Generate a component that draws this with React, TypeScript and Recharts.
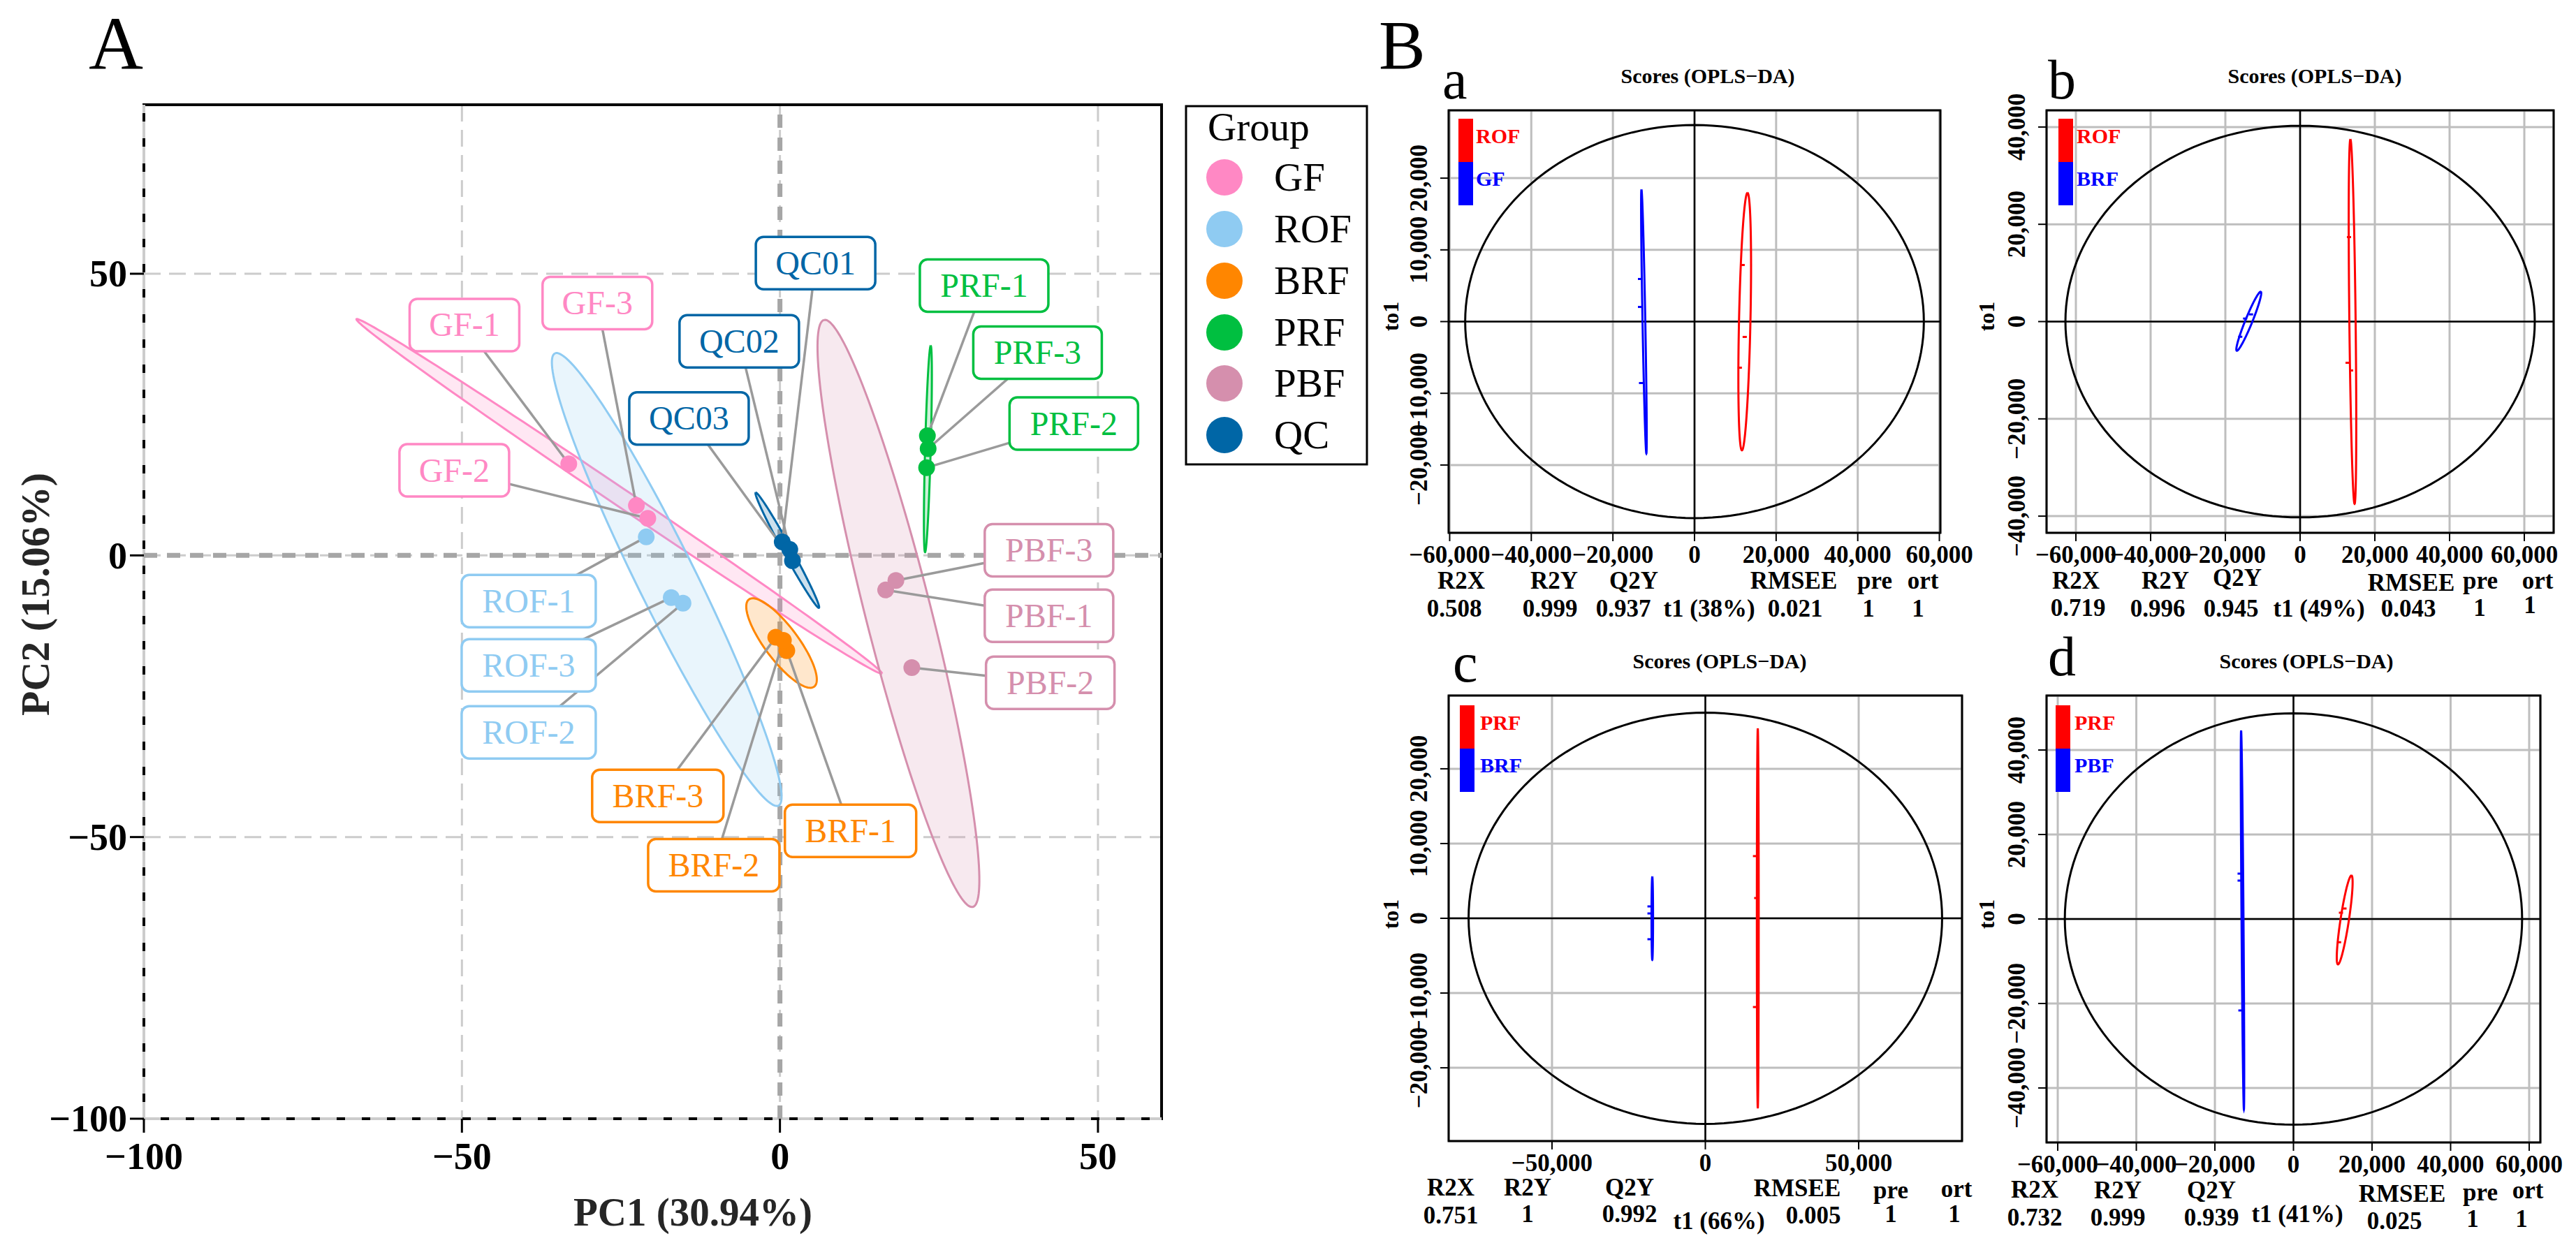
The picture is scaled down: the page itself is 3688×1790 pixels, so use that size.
import React from 'react';
import {
  ScatterChart,
  Scatter,
  XAxis,
  YAxis,
  CartesianGrid,
  ReferenceLine,
  ReferenceArea,
} from 'recharts';

const FONT = '"Liberation Serif", "Times New Roman", Times, serif';

// ---------------- Panel A: PCA scores ----------------
const groups = ['GF', 'ROF', 'BRF', 'PRF', 'PBF', 'QC'];
const groupColors = ['#FF88C4', '#8FCBF2', '#FF8600', '#00BF40', '#D58FAD', '#0066A6'];

const sampleNames = [
  'GF-1', 'GF-2', 'GF-3', 'ROF-1', 'ROF-2', 'ROF-3', 'BRF-1', 'BRF-2', 'BRF-3',
  'PRF-1', 'PRF-2', 'PRF-3', 'PBF-1', 'PBF-2', 'PBF-3', 'QC01', 'QC02', 'QC03',
];
const sampleGroup = [
  'GF', 'GF', 'GF', 'ROF', 'ROF', 'ROF', 'BRF', 'BRF', 'BRF',
  'PRF', 'PRF', 'PRF', 'PBF', 'PBF', 'PBF', 'QC', 'QC', 'QC',
];
const pc1 = [-33.2, -20.78, -22.57, -21.02, -15.24, -17.09, 1.08, 0.54, -0.66, 23.18, 23.06, 23.3, 16.62, 20.73, 18.23, 0.36, 1.55, 1.97];
const pc2 = [16.25, 6.58, 8.86, 3.28, -8.49, -7.48, -16.9, -15.09, -14.54, 21.23, 15.58, 18.95, -6.14, -19.93, -4.45, 2.41, 1.05, -0.96];
// where ggrepel put the labels
const labelPc1 = [-49.6, -51.2, -28.7, -39.5, -39.5, -39.5, 11.1, -10.4, -19.2, 32.1, 46.2, 40.5, 42.3, 42.5, 42.3, 5.6, -6.4, -14.3];
const labelPc2 = [40.9, 15.1, 44.8, -8.1, -31.4, -19.5, -48.9, -55, -42.7, 47.9, 23.4, 36.0, -10.7, -22.6, 0.9, 51.9, 38, 24.3];

// confidence ellipses per group: centre and two conjugate semi-axes (PC units)
const ellCx = [-25.27, -17.8, 0.25, 23.26, 18.63, 1.16];
const ellCy = [10.48, -4.28, -15.56, 18.9, -10.3, 0.92];
const ellAx = [41.3, -17.58, -5.13, 0.445, -11.7, -4.97];
const ellAy = [-31.45, 40.14, 7.74, 18.33, 52.1, 10.22];
const ellBx = [-0.77, 4.13, 2.11, 0.44, 5.0, 0.58];
const ellBy = [-1.29, 2.31, 1.79, -0.01, 1.44, 0.36];

const pcaXTicks = [-100, -50, 0, 50];
const pcaYTicks = [-100, -50, 0, 50];

// ---------------- Panel B: OPLS-DA scores ----------------
const oplsLetters = ['a', 'b', 'c', 'd'];
const oplsPairs = [['ROF', 'GF'], ['ROF', 'BRF'], ['PRF', 'BRF'], ['PRF', 'PBF']];
const oplsT1Pct = [38, 49, 66, 41];
const statNames = ['R2X', 'R2Y', 'Q2Y', 'RMSEE', 'pre', 'ort'];
const statValues = [
  ['0.508', '0.999', '0.937', '0.021', '1', '1'],
  ['0.719', '0.996', '0.945', '0.043', '1', '1'],
  ['0.751', '1', '0.992', '0.005', '1', '1'],
  ['0.732', '0.999', '0.939', '0.025', '1', '1'],
];

const redT1 = [[11800, 12300, 11100], [13080, 12710, 13650], [16200, 16600, 16200], [12980, 12090, 11610]];
const redTo1 = [[7890, -2140, -6430], [17370, -8470, -10050], [8320, 2710, -11870], [2480, 1490, -5500]];
const blueT1 = [[-13350, -13350, -13100], [-13140, -14710, -16020], [-18200, -18200, -18200], [-13700, -13700, -13500]];
const blueTo1 = [[5940, 2040, -8570], [1480, 620, -3120], [1590, 650, -2800], [10740, 9090, -21650]];

// [cx, cy, ax, ay, bx, by]
const redEll = [
  [12300, 0, 680, 17950, 1400, 0],
  [14020, 0, -560, 37470, 840, 0],
  [17100, 0, 0, 25400, 300, 0],
  [13040, -220, 1720, 10520, 1055, -149],
];
const blueEll = [
  [-12400, 0, -600, 18400, 340, 0],
  [-13735, 70, 3215, 6060, 865, -271],
  [-17300, 0, 0, 5560, 250, 0],
  [-12970, -250, -355, 44850, 250, 0],
];
const hotellingX = [56200, 62800, 77200, 58200];
const hotellingY = [27400, 40250, 27500, 48700];

const oplsXHalf = [60250, 67850, 83700, 62850];
const oplsYHalf = [29455, 43430, 29800, 52900];
const oplsXTicks = [
  [-60000, -40000, -20000, 0, 20000, 40000, 60000],
  [-60000, -40000, -20000, 0, 20000, 40000, 60000],
  [-50000, 0, 50000],
  [-60000, -40000, -20000, 0, 20000, 40000, 60000],
];
const oplsYTicks = [
  [-20000, -10000, 0, 10000, 20000],
  [-40000, -20000, 0, 20000, 40000],
  [-20000, -10000, 0, 10000, 20000],
  [-40000, -20000, 0, 20000, 40000],
];

// ---------------- layout ----------------
const PCA_BOX = { l: 206, t: 150, r: 1663, b: 1602 };
const OPLS_BOX = [
  { l: 2074, t: 158, r: 2778, b: 763 },
  { l: 2930, t: 158, r: 3656, b: 763 },
  { l: 2074, t: 996, r: 2809, b: 1634 },
  { l: 2930, t: 996, r: 3637, b: 1636 },
];
const labelBoxW: Record<string, number> = { GF: 157, ROF: 192, BRF: 188, PRF: 184, PBF: 184, QC: 171 };
const legendY = [254, 328, 402, 476, 549, 623];

const letterPos = [[2065, 141], [2932, 141], [2080, 976], [2932, 967]];
const titlePos = [[2445, 119], [3314, 119], [2462, 957], [3302, 957]];
const to1Pos = [[1991, 453], [2844, 453], [1991, 1309], [2844, 1309]];
const keyPos = [[2088, 170, 2113], [2947, 170, 2973], [2090, 1010, 2119], [2943, 1010, 2970]];
const statLabelX = [[2092, 2225, 2339, 2568, 2684, 2753], [2972, 3100, 3203, 3452, 3551, 3633], [2077, 2187, 2333, 2573, 2707, 2801], [2913, 3032, 3166, 3439, 3551, 3619]];
const statLabelY = [[831, 831, 831, 831, 831, 831], [831, 831, 827, 834, 831, 831], [1700, 1700, 1700, 1701, 1704, 1702], [1703, 1704, 1704, 1709, 1707, 1704]];
const statValueX = [[2082, 2219, 2324, 2570, 2675, 2746], [2975, 3089, 3194, 3448, 3550, 3622], [2077, 2187, 2333, 2596, 2707, 2798], [2913, 3032, 3166, 3428, 3540, 3610]];
const statValueY = [[871, 871, 871, 871, 871, 871], [870, 871, 871, 871, 870, 866], [1740, 1738, 1738, 1740, 1738, 1738], [1743, 1743, 1743, 1748, 1745, 1745]];
const t1Pos = [[2447, 871], [3320, 871], [2461, 1748], [3289, 1738]];

// outline of an ellipse from its centre and conjugate semi-axes
function ellipsePoints(cx: number, cy: number, ax: number, ay: number, bx: number, by: number, n = 160) {
  const pts = [];
  for (let i = 0; i <= n; i++) {
    const t = (2 * Math.PI * i) / n;
    pts.push({ x: cx + ax * Math.cos(t) + bx * Math.sin(t), y: cy + ay * Math.cos(t) + by * Math.sin(t) });
  }
  return pts;
}

const fmt = (v: number) => (v < 0 ? '\u2212' : '') + Math.abs(v).toLocaleString('en-US');
const colorOf = (g: string) => groupColors[groups.indexOf(g)];
const noShape = () => <g />;

const PcaXTick = (p: any) => (
  <text x={p.x} y={p.y} dy="0.71em" textAnchor="middle" fontFamily={FONT} fontWeight={700} fontSize={54} fill="#000">
    {fmt(p.payload.value)}
  </text>
);
const PcaYTick = (p: any) => (
  <text x={p.x} y={p.y} dy="0.34em" textAnchor="end" fontFamily={FONT} fontWeight={700} fontSize={54} fill="#000">
    {fmt(p.payload.value)}
  </text>
);
const OplsXTick = (p: any) => (
  <text x={p.x} y={p.y} dy="0.71em" textAnchor="middle" fontFamily={FONT} fontWeight={700} fontSize={35} fill="#000">
    {fmt(p.payload.value)}
  </text>
);
const OplsYTick = (p: any) => (
  <text x={p.x} y={p.y} transform={`rotate(-90, ${p.x}, ${p.y})`} textAnchor="middle" fontFamily={FONT} fontWeight={700} fontSize={35} fill="#000">
    {fmt(p.payload.value)}
  </text>
);

function PcaPlot() {
  const yW = 190;
  const xH = 110;
  const m = 10;
  const w = PCA_BOX.r - PCA_BOX.l;
  const h = PCA_BOX.b - PCA_BOX.t;
  const samples = sampleNames.map((name, i) => ({
    name,
    group: sampleGroup[i],
    x: pc1[i],
    y: pc2[i],
  }));
  const labels = sampleNames.map((name, i) => ({ name, group: sampleGroup[i], x: labelPc1[i], y: labelPc2[i] }));

  const labelShape = (p: any) => {
    const g = p.payload.group;
    const c = colorOf(g);
    const bw = labelBoxW[g];
    return (
      <g>
        <rect x={p.cx - bw / 2} y={p.cy - 37.5} width={bw} height={75} rx={11} fill="#fff" stroke={c} strokeWidth={3.5} />
        <text x={p.cx} y={p.cy + 16} textAnchor="middle" fontFamily={FONT} fontSize={48} fill={c}>
          {p.payload.name}
        </text>
      </g>
    );
  };

  return (
    <div style={{ position: 'absolute', left: PCA_BOX.l - yW - m, top: PCA_BOX.t - m }}>
      <ScatterChart width={w + yW + 2 * m} height={h + xH + 2 * m} margin={{ top: m, right: m, bottom: m, left: m }}>
        <CartesianGrid stroke="#cccccc" strokeWidth={3} strokeDasharray="24 12" />
        <XAxis
          type="number"
          dataKey="x"
          domain={[-100, 60]}
          ticks={pcaXTicks}
          allowDataOverflow
          height={xH}
          axisLine={false}
          tickLine={{ stroke: '#000', strokeWidth: 3 }}
          tickSize={20}
          tickMargin={14}
          tick={<PcaXTick />}
        />
        <YAxis
          type="number"
          dataKey="y"
          domain={[-100, 80]}
          ticks={pcaYTicks}
          allowDataOverflow
          width={yW}
          axisLine={false}
          tickLine={{ stroke: '#000', strokeWidth: 3 }}
          tickSize={20}
          tickMargin={4}
          tick={<PcaYTick />}
        />
        <ReferenceArea x1={-100} x2={60} y1={-100} y2={80} fill="none" stroke="#000" strokeWidth={4} ifOverflow="visible" />
        <ReferenceLine x={-100} stroke="#cccccc" strokeWidth={4} strokeDasharray="24 12" />
        <ReferenceLine y={-100} stroke="#cccccc" strokeWidth={4} strokeDasharray="24 12" />
        <ReferenceLine x={0} stroke="#a6a6a6" strokeWidth={7} strokeDasharray="19 14" />
        <ReferenceLine y={0} stroke="#a6a6a6" strokeWidth={7} strokeDasharray="19 14" />
        {groups.map((g, i) => (
          <Scatter
            key={`ell-${g}`}
            data={ellipsePoints(ellCx[i], ellCy[i], ellAx[i], ellAy[i], ellBx[i], ellBy[i])}
            line={{ stroke: groupColors[i], strokeWidth: 3, fill: groupColors[i], fillOpacity: 0.2 }}
            shape={noShape}
            isAnimationActive={false}
          />
        ))}
        {samples.map((s, i) => (
          <Scatter
            key={`seg-${s.name}`}
            data={[{ x: s.x, y: s.y }, { x: labelPc1[i], y: labelPc2[i] }]}
            line={{ stroke: '#9a9a9a', strokeWidth: 3.5 }}
            shape={noShape}
            isAnimationActive={false}
          />
        ))}
        {groups.map((g, i) => (
          <Scatter
            key={`pts-${g}`}
            data={samples.filter((s) => s.group === g)}
            fill={groupColors[i]}
            shape={(p: any) => <circle cx={p.cx} cy={p.cy} r={12} fill={groupColors[i]} />}
            isAnimationActive={false}
          />
        ))}
        <Scatter data={labels} shape={labelShape} isAnimationActive={false} />
      </ScatterChart>
    </div>
  );
}

function OplsPlot({ idx }: { idx: number }) {
  const box = OPLS_BOX[idx];
  const yW = 70;
  const xH = 60;
  const m = 60;
  const w = box.r - box.l;
  const h = box.b - box.t;
  const xd = oplsXHalf[idx];
  const yd = oplsYHalf[idx];
  const red = redT1[idx].map((x, i) => ({ x, y: redTo1[idx][i] }));
  const blue = blueT1[idx].map((x, i) => ({ x, y: blueTo1[idx][i] }));
  const re = redEll[idx];
  const be = blueEll[idx];
  const tick = (c: string) => (p: any) => <rect x={p.cx - 3} y={p.cy - 1.5} width={6} height={3} fill={c} />;

  return (
    <div style={{ position: 'absolute', left: box.l - yW - m, top: box.t - m }}>
      <ScatterChart width={w + yW + 2 * m} height={h + xH + 2 * m} margin={{ top: m, right: m, bottom: m, left: m }}>
        <CartesianGrid stroke="#bebebe" strokeWidth={3} />
        <XAxis
          type="number"
          dataKey="x"
          domain={[-xd, xd]}
          ticks={oplsXTicks[idx]}
          allowDataOverflow
          height={xH}
          axisLine={false}
          tickLine={{ stroke: '#000', strokeWidth: 2 }}
          tickSize={12}
          tickMargin={6}
          tick={<OplsXTick />}
        />
        <YAxis
          type="number"
          dataKey="y"
          domain={[-yd, yd]}
          ticks={oplsYTicks[idx]}
          allowDataOverflow
          width={yW}
          axisLine={false}
          tickLine={{ stroke: '#000', strokeWidth: 2 }}
          tickSize={12}
          tickMargin={19}
          tick={<OplsYTick />}
        />
        <ReferenceArea x1={-xd} x2={xd} y1={-yd} y2={yd} fill="none" stroke="#000" strokeWidth={3} ifOverflow="visible" />
        <ReferenceLine x={0} stroke="#000" strokeWidth={2.5} />
        <ReferenceLine y={0} stroke="#000" strokeWidth={2.5} />
        <Scatter
          data={ellipsePoints(0, 0, hotellingX[idx], 0, 0, hotellingY[idx])}
          line={{ stroke: '#000', strokeWidth: 3, fill: 'none' }}
          shape={noShape}
          isAnimationActive={false}
        />
        <Scatter
          data={ellipsePoints(re[0], re[1], re[2], re[3], re[4], re[5])}
          line={{ stroke: '#ff0000', strokeWidth: 3, fill: 'none' }}
          shape={noShape}
          isAnimationActive={false}
        />
        <Scatter
          data={ellipsePoints(be[0], be[1], be[2], be[3], be[4], be[5])}
          line={{ stroke: '#0000ff', strokeWidth: 3, fill: 'none' }}
          shape={noShape}
          isAnimationActive={false}
        />
        <Scatter data={red} fill="#ff0000" shape={tick('#ff0000')} isAnimationActive={false} />
        <Scatter data={blue} fill="#0000ff" shape={tick('#0000ff')} isAnimationActive={false} />
      </ScatterChart>
    </div>
  );
}

function Overlay() {
  return (
    <svg
      width={3688}
      height={1790}
      style={{ position: 'absolute', left: 0, top: 0, pointerEvents: 'none' }}
      fontFamily={FONT}
    >
      <text x={127} y={99} fontSize={108}>A</text>
      <text x={1974} y={98} fontSize={100}>B</text>

      <text x={992} y={1755} textAnchor="middle" fontSize={57} fontWeight={700} fill="#262626">
        PC1 (30.94%)
      </text>
      <text x={70} y={851} transform="rotate(-90, 70, 851)" textAnchor="middle" fontSize={58} fontWeight={700} fill="#262626">
        PC2 (15.06%)
      </text>

      <rect x={1698} y={152} width={259} height={513} fill="#fff" stroke="#000" strokeWidth={3} />
      <text x={1729} y={201} fontSize={57}>Group</text>
      {groups.map((g, i) => (
        <g key={g}>
          <circle cx={1753} cy={legendY[i]} r={26} fill={groupColors[i]} />
          <text x={1824} y={legendY[i] + 19} fontSize={57}>{g}</text>
        </g>
      ))}

      {oplsLetters.map((l, i) => (
        <g key={l}>
          <text x={letterPos[i][0]} y={letterPos[i][1]} fontSize={80}>{l}</text>
          <text x={titlePos[i][0]} y={titlePos[i][1]} textAnchor="middle" fontSize={30} fontWeight={700}>
            Scores (OPLS{'\u2212'}DA)
          </text>
          <text
            x={to1Pos[i][0] + 11}
            y={to1Pos[i][1]}
            transform={`rotate(-90, ${to1Pos[i][0] + 11}, ${to1Pos[i][1]})`}
            textAnchor="middle"
            fontSize={32}
            fontWeight={700}
          >
            to1
          </text>
          <rect x={keyPos[i][0]} y={keyPos[i][1]} width={21} height={62} fill="#ff0000" />
          <rect x={keyPos[i][0]} y={keyPos[i][1] + 62} width={21} height={62} fill="#0000ff" />
          <text x={keyPos[i][2]} y={keyPos[i][1] + 35} fontSize={30} fontWeight={700} fill="#ff0000">{oplsPairs[i][0]}</text>
          <text x={keyPos[i][2]} y={keyPos[i][1] + 96} fontSize={30} fontWeight={700} fill="#0000ff">{oplsPairs[i][1]}</text>
          {statNames.map((s, j) => (
            <text key={s} x={statLabelX[i][j]} y={statLabelY[i][j] + 12} textAnchor="middle" fontSize={35} fontWeight={700}>
              {s}
            </text>
          ))}
          {statValues[i].map((v, j) => (
            <text key={j} x={statValueX[i][j]} y={statValueY[i][j] + 12} textAnchor="middle" fontSize={35} fontWeight={700}>
              {v}
            </text>
          ))}
          <text x={t1Pos[i][0]} y={t1Pos[i][1] + 12} textAnchor="middle" fontSize={35} fontWeight={700}>
            t1 ({oplsT1Pct[i]}%)
          </text>
        </g>
      ))}
    </svg>
  );
}

export default function App() {
  return (
    <div style={{ position: 'relative', width: 3688, height: 1790, background: '#fff', overflow: 'hidden' }}>
      <style>{'body{margin:0}'}</style>
      <PcaPlot />
      {[0, 1, 2, 3].map((i) => (
        <OplsPlot key={i} idx={i} />
      ))}
      <Overlay />
    </div>
  );
}
